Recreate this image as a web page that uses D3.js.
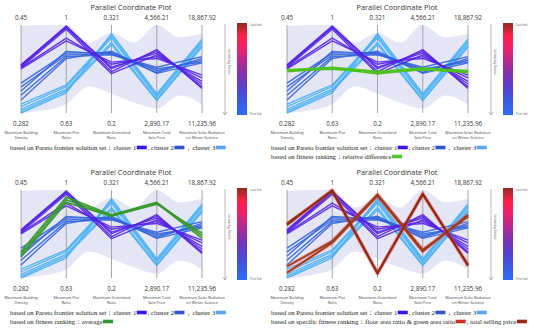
<!DOCTYPE html>
<html>
<head>
<meta charset="utf-8">
<script src="https://cdn.jsdelivr.net/npm/d3@7"></script>
<style>
  body { margin: 0; background: #fff; }
  svg { display: block; }
</style>
</head>
<body>
<svg id="chart" width="550" height="331"></svg>
<script>
// axes of the parallel coordinate plot
const dimNames = [
  ["Maximum Building", "Density"],
  ["Maximum Plot", "Ratio"],
  ["Maximum Greenland", "Ratio"],
  ["Maximum Total", "Sale Price"],
  ["Maximum Solar Radiation", "on Winter Solstice"]
];
const dimMin = [0.282, 0.63, 0.2, 2890.17, 11235.96];
const dimMax = [0.45, 1, 0.321, 4566.21, 18867.92];
const minLabels = ["0.282", "0.63", "0.2", "2,890.17", "11,235.96"];
const maxLabels = ["0.45", "1", "0.321", "4,566.21", "18,867.92"];

// Pareto frontier solutions, one row per solution
const cluster1 = [
  [0.374, 0.996, 0.261, 4063, 13526],
  [0.373, 0.989, 0.257, 4097, 13373],
  [0.371, 0.993, 0.263, 4030, 13754],
  [0.369, 0.982, 0.254, 3996, 13983],
  [0.368, 0.945, 0.267, 3963, 14289],
  [0.366, 0.933, 0.270, 3929, 14518]
];
const cluster2 = [
  [0.339, 0.882, 0.283, 3695, 15815],
  [0.332, 0.874, 0.282, 3661, 15968],
  [0.324, 0.889, 0.281, 3728, 15662],
  [0.316, 0.867, 0.280, 3762, 16120],
  [0.307, 0.859, 0.285, 3644, 15586]
];
const cluster3 = [
  [0.299, 0.748, 0.306, 3225, 17494],
  [0.294, 0.741, 0.303, 3192, 17342],
  [0.289, 0.730, 0.297, 3142, 17113],
  [0.285, 0.723, 0.294, 3125, 16960],
  [0.282, 0.715, 0.309, 3259, 17647]
];

// fitness ranking selections
const relativeDiff = [
  [0.364, 0.822, 0.257, 3745, 14899],
  [0.361, 0.819, 0.254, 3728, 14747],
  [0.363, 0.815, 0.256, 3711, 14823]
];
const averageRank = [
  [0.332, 0.970, 0.287, 4331, 14899],
  [0.327, 0.959, 0.286, 4315, 14670],
  [0.322, 0.948, 0.285, 4298, 15128]
];
const floorGreenRank = [
  [0.304, 0.785, 0.315, 3427, 16578],
  [0.292, 0.778, 0.313, 3393, 16731]
];
const sellingRank = [
  [0.383, 1.000, 0.207, 4482, 12381],
  [0.386, 0.996, 0.206, 4499, 12304]
];

// shaded envelope, as a share of each axis range, at axes and half-way between
const envPos = [0, 0.5, 1, 1.5, 2, 2.5, 3, 3.5, 4];
const envHigh = [0.99, 1.0, 1.0, 0.80, 0.91, 0.80, 1.0, 0.86, 0.90];
const envLow = [0.0, 0.03, 0.10, 0.30, 0.22, 0.12, 0.05, 0.20, 0.10];

// colour bar, top (last individual) to bottom (first individual)
const barColors = ["#8e2c22", "#ff1f48", "#e9226f", "#b02a90", "#7a33b4", "#5542cc", "#3b5be2", "#2c6ef6"];

const c1Color = "#5522e6", c2Color = "#3465dc", c3Color = "#47b0f4";

const svg = d3.select("#chart");

// gradient for the colour bar
const grad = svg.append("defs").append("linearGradient")
  .attr("id", "fitGrad").attr("x1", 0).attr("x2", 0).attr("y1", 0).attr("y2", 1);
barColors.forEach((c, i) => {
  grad.append("stop").attr("offset", i / (barColors.length - 1)).attr("stop-color", c);
});

const sans = "'Open Sans', 'Noto Sans', sans-serif";
const serif = "'Liberation Serif', 'DejaVu Serif', serif";

// layout inside one panel
const x = d3.scaleLinear().domain([0, 4]).range([21, 202]);
const yTop = 25, yBottom = 113;
const yScales = dimMin.map((m, i) => d3.scaleLinear().domain([m, dimMax[i]]).range([yBottom, yTop]));
const yShare = d3.scaleLinear().domain([0, 1]).range([yBottom, yTop]);

const line = d3.line().x((d, i) => x(i)).y((d, i) => yScales[i](d));
const envArea = d3.area()
  .x((d, i) => x(envPos[i]))
  .y0((d, i) => yShare(envLow[i]))
  .y1(d => yShare(d))
  .curve(d3.curveMonotoneX);

function drawLines(g, rows, color, width, opacity) {
  g.append("g").selectAll("path").data(rows).join("path")
    .attr("d", line).attr("fill", "none")
    .attr("stroke", color).attr("stroke-width", width)
    .attr("stroke-opacity", opacity).attr("stroke-linejoin", "round");
}

// legend line made of text pieces and colour swatches
function legendLine(g, lx, ly, items) {
  let cx = lx;
  items.forEach(it => {
    if (typeof it === "string") {
      const t = g.append("text").attr("x", cx).attr("y", ly)
        .attr("font-family", serif).attr("font-size", 6.7).attr("fill", "#222").text(it);
      cx += t.node().getComputedTextLength();
    } else {
      g.append("rect").attr("x", cx + 0.5).attr("y", ly - 4.3).attr("width", 10).attr("height", 3.6)
        .attr("fill", it.color);
      cx += 11.5;
    }
  });
}

function drawPanel(ox, oy, legendX, extra) {
  const g = svg.append("g").attr("transform", `translate(${ox},${oy})`);

  g.append("text").attr("x", 131).attr("y", 10).attr("text-anchor", "middle")
    .attr("font-family", sans).attr("font-size", 7.4).attr("fill", "#333")
    .text("Parallel Coordinate Plot");

  // shaded envelope
  g.append("path").datum(envHigh).attr("d", envArea)
    .attr("fill", "#dfe2f4").attr("fill-opacity", 0.85);

  // vertical axes
  d3.range(5).forEach(i => {
    g.append("line").attr("x1", x(i)).attr("x2", x(i)).attr("y1", yTop).attr("y2", yBottom)
      .attr("stroke", "#9c9c9c").attr("stroke-width", 0.9);
    g.append("text").attr("x", x(i)).attr("y", 19.5).attr("text-anchor", "middle")
      .attr("font-family", sans).attr("font-size", 6.2).attr("fill", "#333").text(maxLabels[i]);
    g.append("text").attr("x", x(i)).attr("y", 125.5).attr("text-anchor", "middle")
      .attr("font-family", sans).attr("font-size", 6.2).attr("fill", "#333").text(minLabels[i]);
    dimNames[i].forEach((s, k) => {
      g.append("text").attr("x", x(i)).attr("y", 133.5 + k * 5).attr("text-anchor", "middle")
        .attr("font-family", sans).attr("font-size", 3.8).attr("fill", "#444").text(s);
    });
  });

  drawLines(g, cluster3, c3Color, 1.4, 0.9);
  drawLines(g, cluster2, c2Color, 1.4, 0.9);
  drawLines(g, cluster1, c1Color, 1.4, 0.9);
  if (extra.draw) extra.draw(g);

  // fitness arrow
  g.append("line").attr("x1", 225).attr("x2", 225).attr("y1", 24).attr("y2", 115)
    .attr("stroke", "#777").attr("stroke-width", 0.5);
  g.append("path").attr("d", "M222.8,111.8L225,115L227.2,111.8")
    .attr("fill", "none").attr("stroke", "#777").attr("stroke-width", 0.5);
  g.append("text").attr("transform", "translate(227.5,62) rotate(90)").attr("text-anchor", "middle")
    .attr("font-family", sans).attr("font-size", 3).attr("fill", "#555").text("Increasing Fitness");

  // colour bar
  g.append("rect").attr("x", 237).attr("y", 23).attr("width", 10).attr("height", 92)
    .attr("fill", "url(#fitGrad)");
  g.append("text").attr("x", 250).attr("y", 25.5).attr("font-family", sans)
    .attr("font-size", 3).attr("fill", "#555").text("Last Ind.");
  g.append("text").attr("x", 250).attr("y", 115).attr("font-family", sans)
    .attr("font-size", 3).attr("fill", "#555").text("First Ind.");

  legendLine(g, legendX, 150, ["based on Pareto frontier solution set：cluster 1", { color: "#3a14ee" },
    ", cluster  2", { color: "#3355cc" }, "，cluster  3", { color: "#5aa4f0" }]);
  if (extra.legend) legendLine(g, legendX, 159, extra.legend);
}

drawPanel(0, 0, 10, {});

drawPanel(266, 0, 5, {
  draw: g => drawLines(g, relativeDiff, "#4cc21e", 1.9, 0.95),
  legend: ["based on fitness ranking：relative difference", { color: "#55c433" }]
});

drawPanel(0, 165, 10, {
  draw: g => drawLines(g, averageRank, "#379a2a", 1.7, 0.95),
  legend: ["based on fitness ranking：average", { color: "#2f9a36" }]
});

drawPanel(266, 165, 5, {
  draw: g => {
    drawLines(g, floorGreenRank, "#ff4a5a", 3.8, 0.35);
    drawLines(g, sellingRank, "#ff4a5a", 3.8, 0.35);
    drawLines(g, floorGreenRank, "#9c3f1c", 1.9, 1);
    drawLines(g, sellingRank, "#8a2e12", 1.9, 1);
  },
  legend: ["based on specific fitness ranking：floor area ratio & green area ratio", { color: "#c8321e" },
    ", total selling price", { color: "#9a2a12" }]
});
</script>
</body>
</html>
